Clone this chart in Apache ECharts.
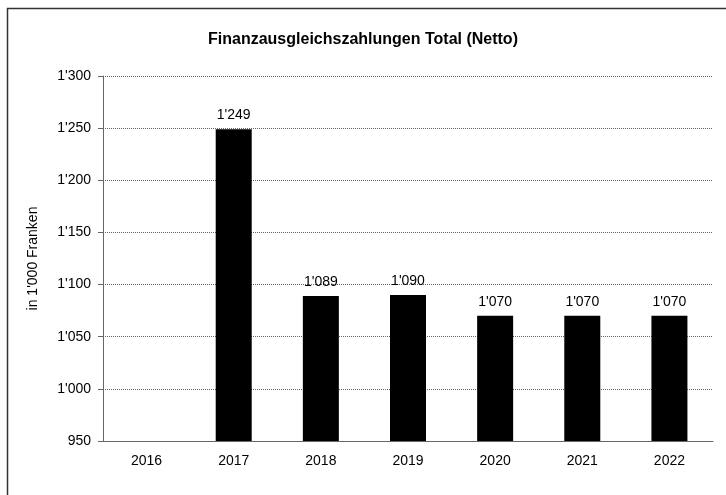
<!DOCTYPE html>
<html>
<head>
<meta charset="utf-8">
<script src="https://cdn.jsdelivr.net/npm/echarts@6/dist/echarts.min.js"></script>
<style>
  html, body { margin: 0; padding: 0; background: #fff; }
  #chart { width: 726px; height: 495px; }
</style>
</head>
<body>
<div id="chart"></div>
<script>
const years = ['2016', '2017', '2018', '2019', '2020', '2021', '2022']
const payments = [null, 1249, 1089, 1090, 1070, 1070, 1070]
const yMin = 950
const yMax = 1300
const yStep = 50

// 1'249 Schreibweise
const fmt = (v) => {
  const s = String(Math.round(v))
  return s.replace(/\B(?=(\d{3})+(?!\d))/g, "'")
}

const chart = echarts.init(document.getElementById('chart'))
const font = 'Liberation Sans, Arial, sans-serif'

chart.setOption({
  animation: false,
  backgroundColor: '#fff',
  title: {
    text: 'Finanzausgleichszahlungen Total (Netto)',
    left: 'center',
    top: 27,
    textStyle: { fontFamily: font, fontSize: 16, fontWeight: 'bold', color: '#000' }
  },
  graphic: [{
    type: 'rect',
    left: 5,
    top: 6,
    shape: { width: 800, height: 600 },
    style: { fill: 'none', stroke: '#333', lineWidth: 1.5 },
    silent: true
  }],
  grid: { left: 103, right: 13, top: 76, bottom: 54 },
  xAxis: {
    type: 'category',
    data: years,
    axisLine: { lineStyle: { color: '#666', width: 1 } },
    axisTick: { show: false },
    axisLabel: { color: '#000', fontFamily: font, fontSize: 14, margin: 13 }
  },
  yAxis: {
    type: 'value',
    min: yMin,
    max: yMax,
    interval: yStep,
    name: "in 1'000 Franken",
    nameLocation: 'middle',
    nameGap: 63,
    nameRotate: 90,
    nameTextStyle: { color: '#000', fontFamily: font, fontSize: 14 },
    axisLine: { show: true, lineStyle: { color: '#666', width: 1 } },
    axisTick: { show: true, length: 5, lineStyle: { color: '#666' } },
    axisLabel: { color: '#000', fontFamily: font, fontSize: 14, margin: 12, formatter: fmt },
    splitLine: { show: true, lineStyle: { color: '#666', type: [1, 1], width: 1 } }
  },
  series: [{
    type: 'bar',
    data: payments,
    barWidth: 36,
    itemStyle: { color: '#000' },
    label: {
      show: true,
      position: 'top',
      distance: 7,
      color: '#000',
      fontFamily: font,
      fontSize: 14,
      formatter: (p) => fmt(p.value)
    }
  }]
})
</script>
</body>
</html>
